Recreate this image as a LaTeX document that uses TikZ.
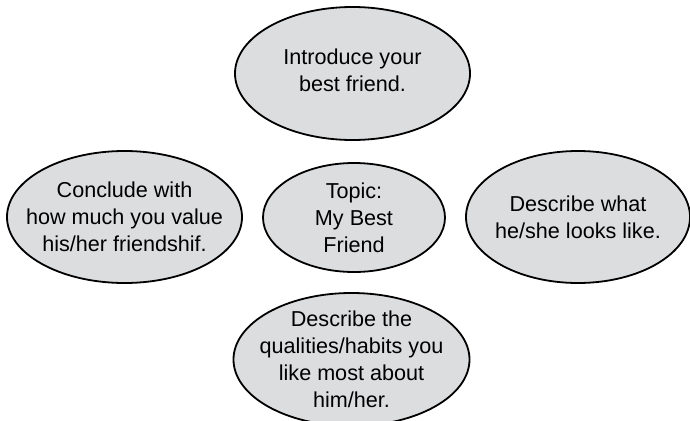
\documentclass[tikz,border=0pt]{standalone}
\usepackage{fontspec}
\setmainfont{Liberation Sans}
\usetikzlibrary{shapes.geometric}
\definecolor{bubblefill}{HTML}{DCDDDF}
\begin{document}
\begin{tikzpicture}[x=1pt,y=-1pt,
  bubble/.style={ellipse, draw=black, line width=1.8pt, fill=bubblefill, inner sep=0pt},
  txt/.style={align=center, font=\fontsize{21.6}{27}\selectfont, inner sep=0pt}]
\useasboundingbox (0,0) rectangle (690,420);
\node[bubble, minimum width=235pt, minimum height=133pt] (top) at (352.5,73.5) {};
\node[txt] (toptxt) at ([yshift=3pt]top.center) {Introduce your\\best friend.};
\node[bubble, minimum width=235pt, minimum height=132pt] (left) at (124.5,217) {};
\node[txt] (lefttxt) at (left) {Conclude with\\how much you value\\his/her friendshif.};
\node[bubble, minimum width=182pt, minimum height=109pt] (center) at (354,217.5) {};
\node[txt] (centertxt) at (center) {Topic:\\My Best\\Friend};
\node[bubble, minimum width=224pt, minimum height=132pt] (right) at (578,217) {};
\node[txt] (righttxt) at (right) {Describe what\\he/she looks like.};
\node[bubble, minimum width=236pt, minimum height=133pt] (bottom) at (351.5,359.5) {};
\node[txt] (bottomtxt) at (bottom) {Describe the\\qualities/habits you\\like most about\\him/her.};
\end{tikzpicture}
\end{document}
